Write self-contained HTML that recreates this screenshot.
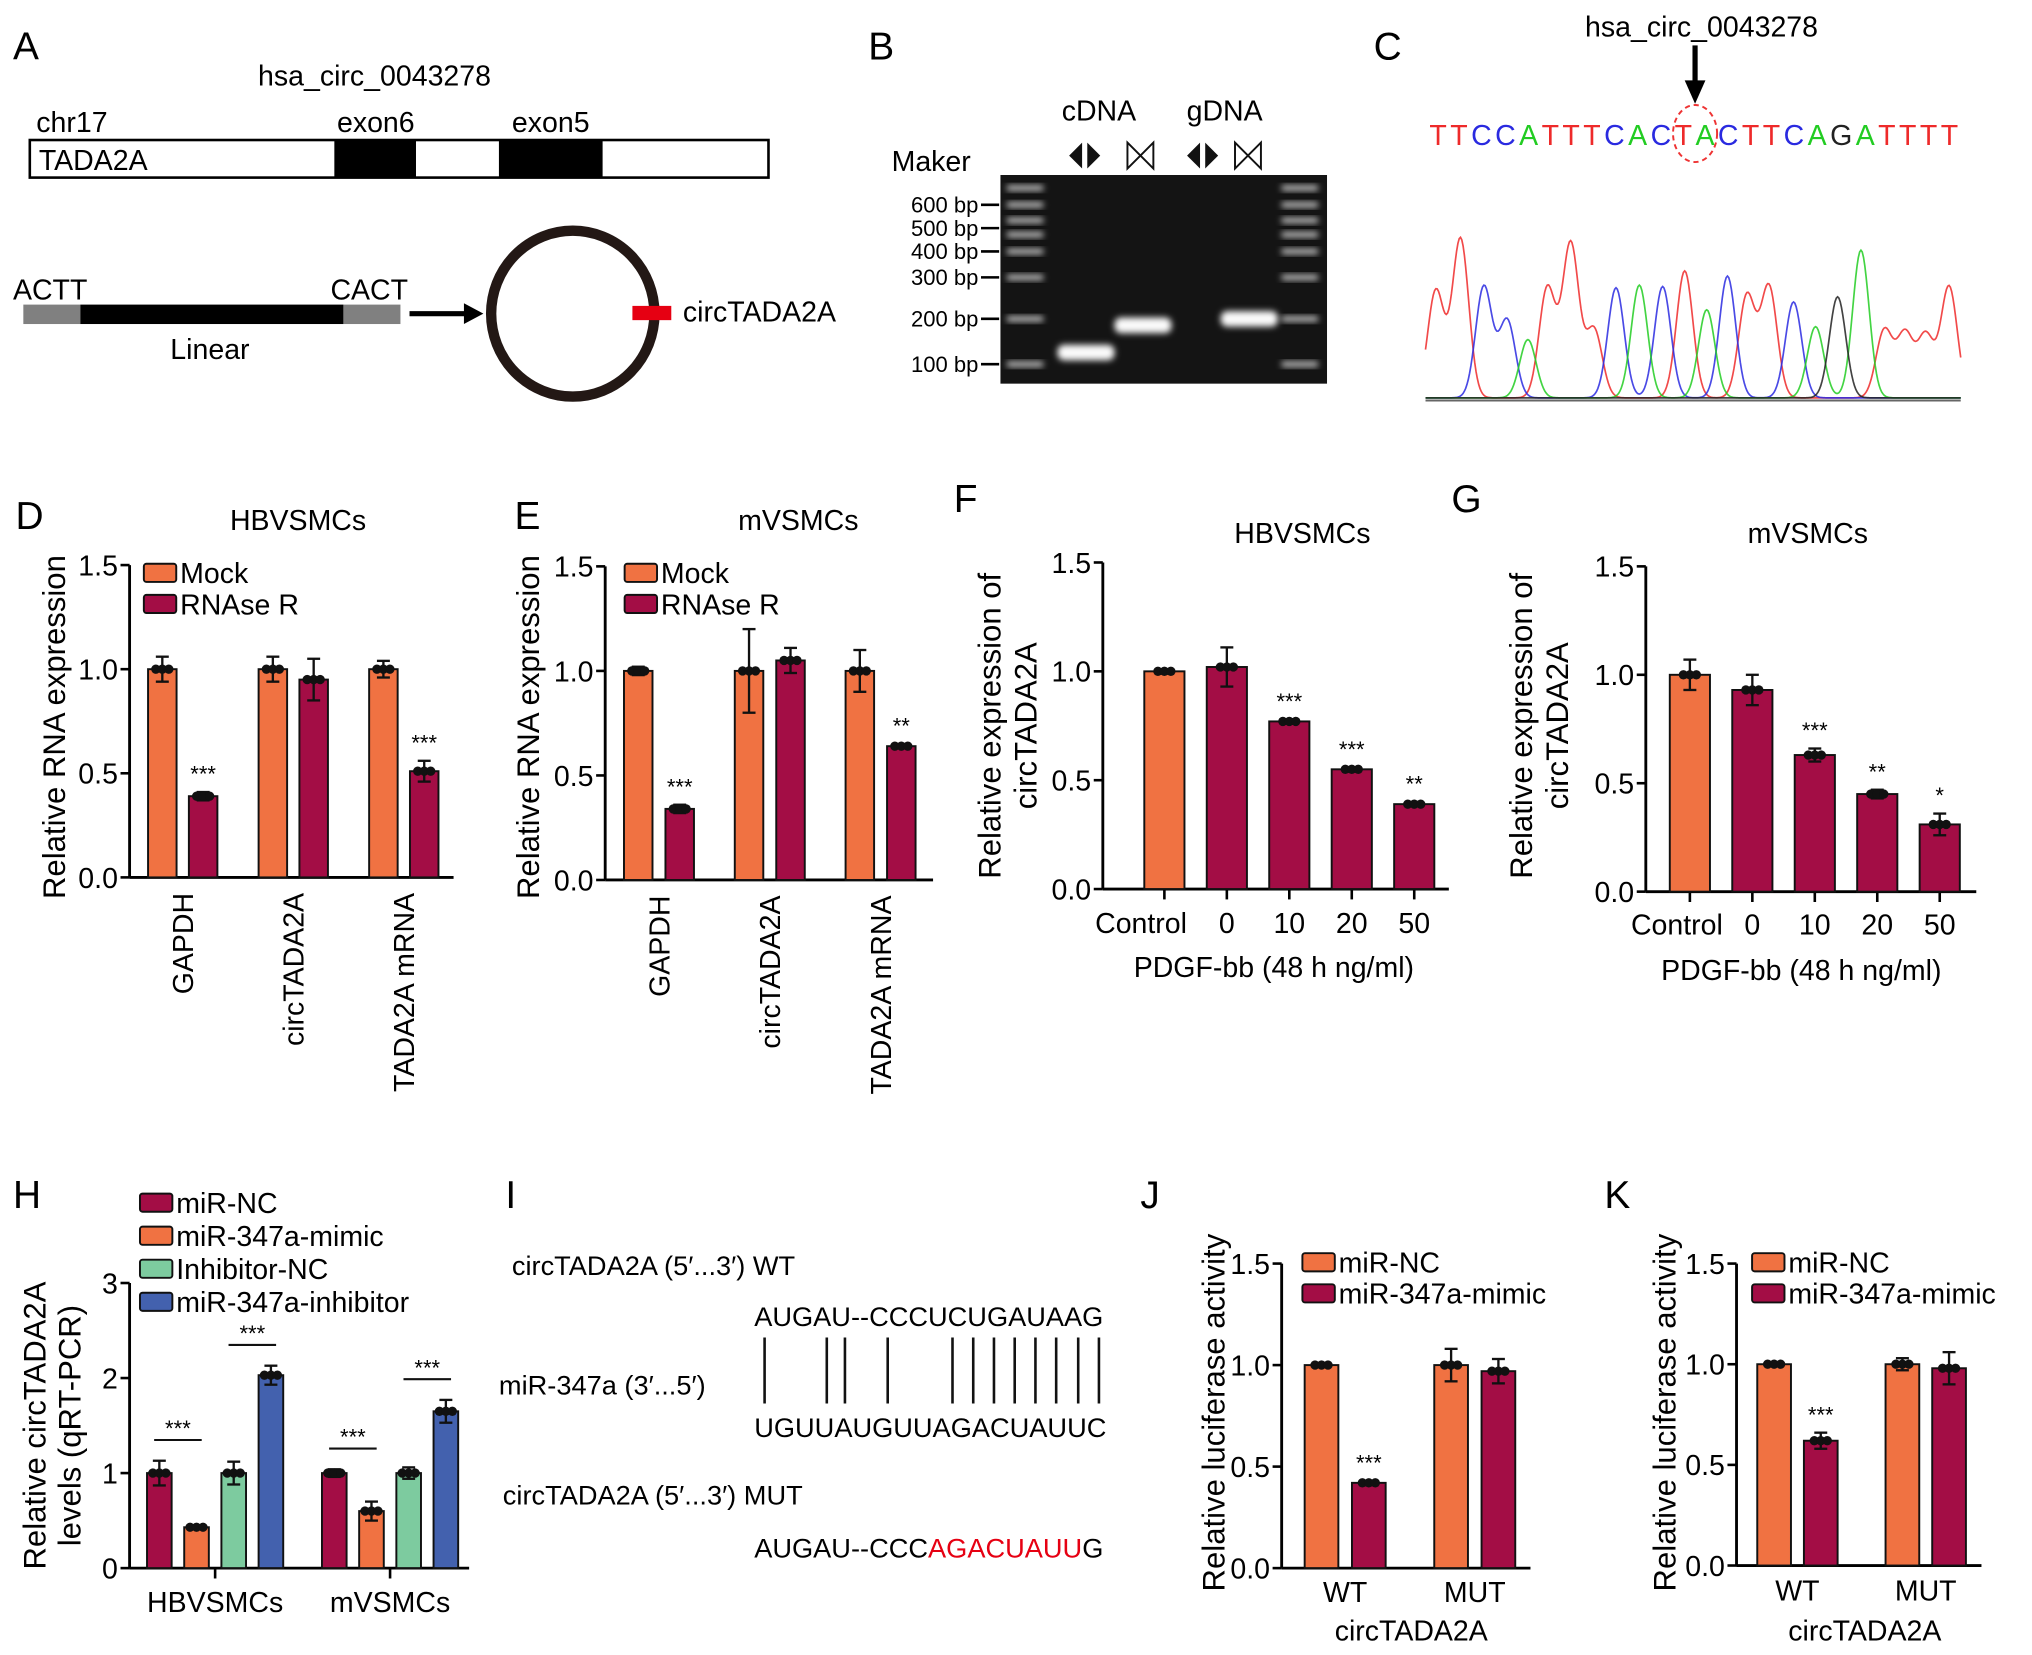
<!DOCTYPE html>
<html><head><meta charset="utf-8"><style>
html,body{margin:0;padding:0;background:#fff;}
svg{display:block;font-family:"Liberation Sans",Arial,sans-serif;}
</style></head><body>
<svg id="fig" xmlns="http://www.w3.org/2000/svg" width="2032" height="1655" viewBox="0 0 1568 1277">
<defs><filter id="blur" x="-50%" y="-50%" width="200%" height="200%"><feGaussianBlur stdDeviation="2.5"/></filter></defs>
<rect width="1568" height="1277" fill="#fff"/>
<!-- Panel A -->
<g>
<text x="10" y="46" font-size="30">A</text>
<text x="289" y="66" font-size="22" text-anchor="middle">hsa_circ_0043278</text>
<text x="28" y="102" font-size="22">chr17</text>
<text x="290" y="102" font-size="22" text-anchor="middle">exon6</text>
<text x="425" y="102" font-size="22" text-anchor="middle">exon5</text>
<rect x="23" y="108" width="570" height="29" fill="#fff" stroke="#000" stroke-width="2"/>
<rect x="258" y="108" width="63" height="29" fill="#000"/>
<rect x="385" y="108" width="80" height="29" fill="#000"/>
<text x="30" y="131" font-size="22">TADA2A</text>
<text x="10" y="231" font-size="22">ACTT</text>
<text x="255" y="231" font-size="22">CACT</text>
<rect x="18" y="235" width="44" height="15" fill="#808080"/>
<rect x="62" y="235" width="203" height="15" fill="#000"/>
<rect x="265" y="235" width="44" height="15" fill="#808080"/>
<text x="162" y="277" font-size="22" text-anchor="middle">Linear</text>
<line x1="316" y1="242" x2="360" y2="242" stroke="#000" stroke-width="4"/>
<polygon points="358,234 373,242 358,250" fill="#000"/>
<ellipse cx="442" cy="242" rx="63" ry="64" fill="none" stroke="#231815" stroke-width="8"/>
<rect x="488" y="236" width="30" height="11" fill="#e60012"/>
<text x="527" y="248" font-size="22">circTADA2A</text>
</g>
<!-- Panel B -->
<g>
<text x="670" y="46" font-size="30">B</text>
<text x="688" y="132" font-size="22">Maker</text>
<text x="848" y="93" font-size="22" text-anchor="middle">cDNA</text>
<text x="945" y="93" font-size="22" text-anchor="middle">gDNA</text>
<g id="primers"></g>
<rect x="772" y="135" width="252" height="161" fill="#141414"/>
<g id="gel"></g>
</g>
<!-- Panel C -->
<g>
<text x="1060" y="46" font-size="30">C</text>
<text x="1313" y="28" font-size="22" text-anchor="middle">hsa_circ_0043278</text>
<line x1="1308" y1="35" x2="1308" y2="66" stroke="#000" stroke-width="4"/>
<polygon points="1300,62 1308,80 1316,62" fill="#000"/>
<ellipse cx="1308" cy="103" rx="17" ry="22" fill="none" stroke="#e33" stroke-width="1.5" stroke-dasharray="4,3"/>
<g id="seq"></g>
<g id="chrom"></g>
</g>
<g id="charts"></g>
<!-- Panel I -->
<g font-size="21">
<text x="390" y="932" font-size="30">I</text>
<text x="395" y="984">circTADA2A (5′...3′) WT</text>
<text x="582" y="1023">AUGAU--CCCUCUGAUAAG</text>
<text x="385" y="1076">miR-347a (3′...5′)</text>
<g id="pairs"></g>
<text x="582" y="1109">UGUUAUGUUAGACUAUUC</text>
<text x="388" y="1161">circTADA2A (5′...3′) MUT</text>
<text x="582" y="1202">AUGAU--CCC<tspan fill="#e60012">AGACUAUU</tspan>G</text>
</g>
</svg>
<script>
// ---------- Data ----------
// Panel D
const dCats = ["GAPDH","circTADA2A","TADA2A mRNA"];
const dMock = [1.0, 1.0, 1.0];
const dRnase = [0.39, 0.95, 0.51];
const dMockErr = [0.06, 0.06, 0.04];
const dRnaseErr = [0.02, 0.10, 0.05];
const dStars = ["***","","***"];
// Panel E
const eCats = ["GAPDH","circTADA2A","TADA2A mRNA"];
const eMock = [1.0, 1.0, 1.0];
const eRnase = [0.34, 1.05, 0.64];
const eMockErr = [0.02, 0.20, 0.10];
const eRnaseErr = [0.02, 0.06, 0.01];
const eStars = ["***","","**"];
// Panel F
const fCats = ["Control","0","10","20","50"];
const fVals = [1.0, 1.02, 0.77, 0.55, 0.39];
const fErr = [0.01, 0.09, 0.01, 0.01, 0.01];
const fStars = ["","","***","***","**"];
// Panel G
const gCats = ["Control","0","10","20","50"];
const gVals = [1.0, 0.93, 0.63, 0.45, 0.31];
const gErr = [0.07, 0.07, 0.03, 0.02, 0.05];
const gStars = ["","","***","**","*"];
// Panel H
const hCats = ["HBVSMCs","mVSMCs"];
const hNC = [1.0, 1.0];
const hMimic = [0.43, 0.60];
const hInhNC = [1.0, 1.0];
const hInh = [2.03, 1.65];
const hNCErr = [0.13, 0.04];
const hMimicErr = [0.02, 0.10];
const hInhNCErr = [0.12, 0.06];
const hInhErr = [0.10, 0.12];
const hYTicks = [0,1,2,3];
// Panel J
const jCats = ["WT","MUT"];
const jNC = [1.0, 1.0];
const jMimic = [0.42, 0.97];
const jNCErr = [0.01, 0.08];
const jMimicErr = [0.01, 0.06];
const jStars = ["***",""];
// Panel K
const kCats = ["WT","MUT"];
const kNC = [1.0, 1.0];
const kMimic = [0.62, 0.98];
const kNCErr = [0.01, 0.03];
const kMimicErr = [0.04, 0.08];
const kStars = ["***",""];
const ticks15 = [0, 0.5, 1.0, 1.5];
const tickLabels15 = ["0.0","0.5","1.0","1.5"];

const ORANGE="#F07242", CRIMSON="#A30D45", GREEN="#7DCB9F", BLUE="#4361AE";
const NS="http://www.w3.org/2000/svg";
function mk(tag, attrs, parent, txt){
  const e=document.createElementNS(NS,tag);
  for(const k in attrs) e.setAttribute(k,attrs[k]);
  if(txt!==undefined) e.textContent=txt;
  parent.appendChild(e); return e;
}
const charts=document.getElementById('charts');

function barChart(cfg, cats, series, errs, colors, stars){
  const g=mk('g',{},charts);
  
  
  const y=v=>cfg.y0-(v-cfg.ymin)/(cfg.ymax-cfg.ymin)*(cfg.y0-cfg.y1);
  const ya=mk('line',{x1:cfg.ax,y1:cfg.y1,x2:cfg.ax,y2:cfg.y0,stroke:'#000','stroke-width':2.2},g);
  
  
  const xa=mk('line',{x1:cfg.ax,y1:cfg.y0,x2:cfg.xend,y2:cfg.y0,stroke:'#000','stroke-width':2.2},g);
  
  
  cfg.ticks.forEach((t,i)=>{
    mk('line',{x1:cfg.ax-7,y1:y(t),x2:cfg.ax,y2:y(t),stroke:'#000','stroke-width':2},g);
    const tl=mk('text',{x:cfg.ax-9,y:y(t)+8,'font-size':22,'text-anchor':'end'},g,cfg.tickLabels[i]);
    
    
  });
  const n=series.length;
  cats.forEach((c,i)=>{
    const cx=cfg.gx+i*cfg.gstep;
    if(cfg.xticks){ mk('line',{x1:cx,y1:cfg.y0,x2:cx,y2:cfg.y0+8,stroke:'#000','stroke-width':2},g); }
    series.forEach((s,j)=>{
      const bx=cx+(j-(n-1)/2)*cfg.bstep;
      const v=s[i], e=errs[j][i];
      const b=mk('rect',{x:bx-cfg.bw/2,y:y(v),width:cfg.bw,height:cfg.y0-y(v),fill:(cfg.colorFn?cfg.colorFn(i,j):colors[j]),stroke:'#111','stroke-width':1.5},g);
      
      
      mk('line',{x1:bx,y1:y(v+e),x2:bx,y2:y(v-e),stroke:'#111','stroke-width':1.8},g);
      mk('line',{x1:bx-5,y1:y(v+e),x2:bx+5,y2:y(v+e),stroke:'#111','stroke-width':1.8},g);
      mk('line',{x1:bx-5,y1:y(v-e),x2:bx+5,y2:y(v-e),stroke:'#111','stroke-width':1.8},g);
      [-5,0,5].forEach(o=>{ mk('circle',{cx:bx+o,cy:y(v),r:3.6,fill:'#111'},g); });
      if(stars && j===n-1 && stars[i]){
        const st=mk('text',{x:bx,y:y(v+e)-8,'font-size':17,'text-anchor':'middle'},g,stars[i]);
        
        
      }
    });
    let lab;
    if(cfg.rotLabels){
      lab=mk('text',{x:0,y:0,'font-size':22,'text-anchor':'end',transform:`translate(${cx+8},${cfg.y0+12}) rotate(-90)`},g,c);
    } else {
      lab=mk('text',{x:cx+(cfg.labDx?cfg.labDx[i]:0),y:cfg.y0+(cfg.labDy||33),'font-size':22,'text-anchor':'middle'},g,c);
    }
    
    
  });
  return {g,y};
}
function text(parent,x,yy,s,size,anchor,name,rot){
  const t=mk('text',{x:rot?0:x,y:rot?0:yy,'font-size':size,'text-anchor':anchor||'start'},parent,s);
  if(rot) t.setAttribute('transform',`translate(${x},${yy}) rotate(-90)`);
  
  
  return t;
}
function legend(parent,x,yy,items,colors,step){
  items.forEach((s,i)=>{
    const r=mk('rect',{x:x,y:yy+i*step-14,width:25,height:14,fill:colors[i],stroke:'#111','stroke-width':1.5,rx:2},parent);
    
    
    text(parent,x+28,yy+i*step+1,s,22,'start','legend-entry');
  });
}

// D
let c=barChart({name:'panel-d-chart',ax:100,xend:350,y0:677,y1:436,ymin:0,ymax:1.5,ticks:ticks15,tickLabels:tickLabels15,gx:141,gstep:85.3,bstep:31.5,bw:22,rotLabels:true},
 dCats,[dMock,dRnase],[dMockErr,dRnaseErr],[ORANGE,CRIMSON],dStars);
text(c.g,12,408,'D',30,'start','panel-d-label');
text(c.g,230,409,'HBVSMCs',22,'middle','chart-title');
text(c.g,50,561,'Relative RNA expression',24,'middle','y-axis-title',true);
legend(c.g,111,449,['Mock','RNAse R'],[ORANGE,CRIMSON],24);
// E
c=barChart({name:'panel-e-chart',ax:467,xend:720,y0:679,y1:437,ymin:0,ymax:1.5,ticks:ticks15,tickLabels:tickLabels15,gx:508.5,gstep:85.5,bstep:32,bw:22,rotLabels:true},
 eCats,[eMock,eRnase],[eMockErr,eRnaseErr],[ORANGE,CRIMSON],eStars);
text(c.g,397,408,'E',30,'start','panel-e-label');
text(c.g,616,409,'mVSMCs',22,'middle','chart-title');
text(c.g,416,561,'Relative RNA expression',24,'middle','y-axis-title',true);
legend(c.g,482,449,['Mock','RNAse R'],[ORANGE,CRIMSON],24);
// F
c=barChart({name:'panel-f-chart',ax:851,xend:1118,y0:686,y1:434,ymin:0,ymax:1.5,ticks:ticks15,tickLabels:tickLabels15,gx:898.5,gstep:48.2,bstep:0,bw:31,xticks:true,labDx:[-18,0,0,0,0],labDy:34,colorFn:(i)=>i===0?ORANGE:CRIMSON},
 fCats,[fVals],[fErr],[ORANGE],fStars);
text(c.g,736,395,'F',30,'start','panel-f-label');
text(c.g,1005,419,'HBVSMCs',22,'middle','chart-title');
text(c.g,772,560,'Relative expression of',24,'middle','y-axis-title',true);
text(c.g,800,560,'circTADA2A',24,'middle','y-axis-title-line2',true);
text(c.g,983,754,'PDGF-bb (48 h ng/ml)',22,'middle','x-axis-title');
// G
c=barChart({name:'panel-g-chart',ax:1270,xend:1525,y0:688,y1:437,ymin:0,ymax:1.5,ticks:ticks15,tickLabels:tickLabels15,gx:1304,gstep:48.2,bstep:0,bw:31,xticks:true,labDx:[-10,0,0,0,0],labDy:33,colorFn:(i)=>i===0?ORANGE:CRIMSON},
 gCats,[gVals],[gErr],[ORANGE],gStars);
text(c.g,1120,395,'G',30,'start','panel-g-label');
text(c.g,1395,419,'mVSMCs',22,'middle','chart-title');
text(c.g,1182,560,'Relative expression of',24,'middle','y-axis-title',true);
text(c.g,1210,560,'circTADA2A',24,'middle','y-axis-title-line2',true);
text(c.g,1390,756,'PDGF-bb (48 h ng/ml)',22,'middle','x-axis-title');
// H
c=barChart({name:'panel-h-chart',ax:100,xend:362,y0:1210,y1:990,ymin:0,ymax:3,ticks:hYTicks,tickLabels:hYTicks.map(String),gx:166,gstep:135,bstep:28.7,bw:19,xticks:true,labDy:34},
 hCats,[hNC,hMimic,hInhNC,hInh],[hNCErr,hMimicErr,hInhNCErr,hInhErr],[CRIMSON,ORANGE,GREEN,BLUE],null);
text(c.g,10,932,'H',30,'start','panel-h-label');
text(c.g,35,1100,'Relative circTADA2A',24,'middle','y-axis-title',true);
text(c.g,62,1100,'levels (qRT-PCR)',24,'middle','y-axis-title-line2',true);
legend(c.g,108,935,['miR-NC','miR-347a-mimic','Inhibitor-NC','miR-347a-inhibitor'],[CRIMSON,ORANGE,GREEN,BLUE],25.5);
hCats.forEach((cat,i)=>{
  const cx=166+i*135;
  [[0,1,hNC,hNCErr],[2,3,hInh,hInhErr]].forEach(([a,b,arr,er])=>{
    const xa=cx+(a-1.5)*28.7, xb=cx+(b-1.5)*28.7;
    const top=c.y(Math.max(hNC[i]+hNCErr[i], arr[i]+er[i]))-16;
    const ln=mk('line',{x1:xa-4,y1:top,x2:xb+4,y2:top,stroke:'#111','stroke-width':1.6},c.g);
    
    
    text(c.g,(xa+xb)/2,top-3,'***',17,'middle','significance-stars');
  });
});
// J
c=barChart({name:'panel-j-chart',ax:989,xend:1181,y0:1210,y1:975,ymin:0,ymax:1.5,ticks:ticks15,tickLabels:tickLabels15,gx:1038,gstep:100,bstep:36.5,bw:26,labDy:26},
 jCats,[jNC,jMimic],[jNCErr,jMimicErr],[ORANGE,CRIMSON],jStars);
text(c.g,880,932,'J',30,'start','panel-j-label');
text(c.g,945,1090,'Relative luciferase activity',24,'middle','y-axis-title',true);
text(c.g,1089,1266,'circTADA2A',22,'middle','x-axis-title');
legend(c.g,1005,981,['miR-NC','miR-347a-mimic'],[ORANGE,CRIMSON],24);
// K
c=barChart({name:'panel-k-chart',ax:1340,xend:1529,y0:1208,y1:975,ymin:0,ymax:1.5,ticks:ticks15,tickLabels:tickLabels15,gx:1387,gstep:99,bstep:36,bw:26,labDy:27},
 kCats,[kNC,kMimic],[kNCErr,kMimicErr],[ORANGE,CRIMSON],kStars);
text(c.g,1238,932,'K',30,'start','panel-k-label');
text(c.g,1293,1090,'Relative luciferase activity',24,'middle','y-axis-title',true);
text(c.g,1439,1266,'circTADA2A',22,'middle','x-axis-title');
legend(c.g,1352,981,['miR-NC','miR-347a-mimic'],[ORANGE,CRIMSON],24);

// ---------- Panel B gel ----------
const gel=document.getElementById('gel');
const bpLabels=["600 bp","500 bp","400 bp","300 bp","200 bp","100 bp"];
const bpY=[158,176,194,214,246,281];
bpLabels.forEach((s,i)=>{
  const t=mk('text',{x:755,y:bpY[i]+6,'font-size':17,'text-anchor':'end'},gel,s);
  
  
  mk('line',{x1:757,y1:bpY[i],x2:771,y2:bpY[i],stroke:'#000','stroke-width':2},gel);
});
const ladderY=[145,158,170,181,194,214,246,281];
ladderY.forEach(yy=>{
  mk('rect',{x:777,y:yy-2,width:28,height:4,fill:'#ccc',filter:'url(#blur)'},gel);
  mk('rect',{x:989,y:yy-2,width:28,height:4,fill:'#ccc',filter:'url(#blur)'},gel);
});
[[838,272],[882,251],[964,246]].forEach(([x,yy])=>{
  const b=mk('rect',{x:x-22,y:yy-6,width:44,height:12,rx:5,fill:'#fafafa',filter:'url(#blur)'},gel);
  
  
});
const pr=document.getElementById('primers');
[837,928].forEach(x=>{
  mk('polygon',{points:`${x-2},110 ${x-2},130 ${x-12},120`,fill:'#111'},pr);
  mk('polygon',{points:`${x+2},110 ${x+2},130 ${x+12},120`,fill:'#111'},pr);
});
[880,963].forEach(x=>{
  mk('path',{d:`M${x-10},110 L${x+10},130 L${x+10},110 L${x-10},130 Z`,fill:'none',stroke:'#111','stroke-width':1.5},pr);
});

// ---------- Panel C sequence & chromatogram ----------
const seq="TTCCATTTCACTACTTCAGATTTT";
const baseCol={T:'#ee2a2a',C:'#2a2ae0',A:'#22cc22',G:'#222'};
const sg=document.getElementById('seq');
const st=mk('text',{x:1103,y:112,'font-size':22},sg);


for(const ch of seq){ mk('tspan',{fill:baseCol[ch]},st,ch); }
st.setAttribute('textLength','408');
const peakX=[1108,1127,1145,1163,1179,1194,1212,1230,1247,1265,1283,1300,1317,1333,1348,1365,1384,1401,1418,1436,1454,1470,1486,1504];
const peakH=[83,123,86,60,45,85,119,53,85,87,86,98,68,94,79,86,74,55,78,114,52,49,48,86];
const peakBase=['T','T','C','C','A','T','T','T','C','A','C','T','A','C','T','T','C','A','G','A','T','T','T','T'];
const chrom=document.getElementById('chrom');
const base=308;
['T','C','A','G'].forEach(b=>{
  let d='';
  for(let x=1100;x<=1513;x+=1){
    let v=1;
    peakX.forEach((px,i)=>{ if(peakBase[i]===b) v+=peakH[i]*Math.exp(-Math.pow(x-px,2)/(2*40)); });
    d+=(x===1100?'M':'L')+x+','+(base-v).toFixed(1);
  }
  const p=mk('path',{d:d,fill:'none',stroke:baseCol[b],'stroke-width':1.3,opacity:0.85},chrom);
  
  
});
mk('line',{x1:1100,y1:309,x2:1513,y2:309,stroke:'#666','stroke-width':1.5},chrom);

// ---------- Panel I pair lines ----------
const pairs=document.getElementById('pairs');
[590,638,652,685,735,751,767,783,799,815,832,848].forEach(x=>{
  const l=mk('line',{x1:x,y1:1032,x2:x,y2:1083,stroke:'#111','stroke-width':2},pairs);
  
  
});
</script>
</body></html>
